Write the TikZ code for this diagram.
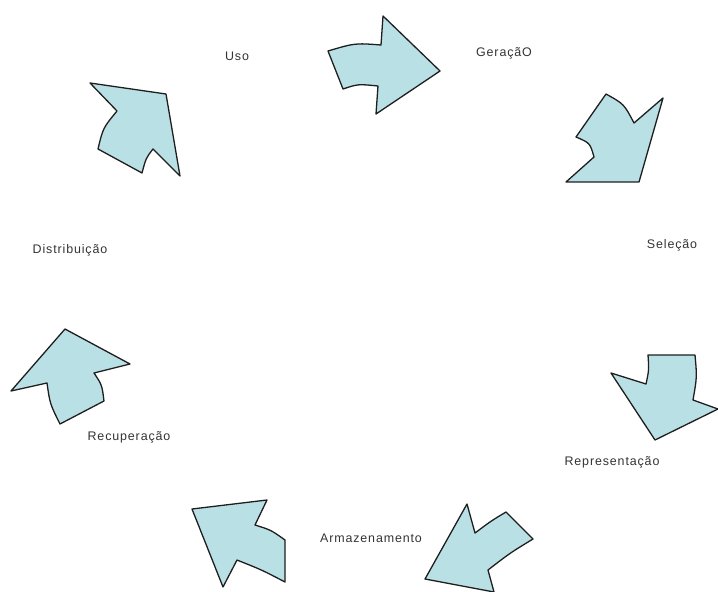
\documentclass[tikz,border=0pt]{standalone}
\usepackage{fontspec}
\setmainfont{Liberation Sans}
\newfontfamily\labelfont[LetterSpace=7]{Liberation Sans}
\definecolor{arrowfill}{HTML}{B9E0E4}
\definecolor{arrowline}{HTML}{1E1E1E}
\definecolor{labeltext}{HTML}{333333}
\tikzset{
  bigarrow/.style={fill=arrowfill, draw=arrowline, line width=1.3pt, line join=round},
  lbl/.style={text=labeltext, font=\labelfont\fontsize{12.5}{14}\selectfont, inner sep=0pt}
}
\begin{document}
\begin{tikzpicture}[x=1bp, y=-1bp]
\useasboundingbox (0,0) rectangle (718,592);
% labels
\node[lbl] (uso) at (237,56) {Uso};
\node[lbl] (geracao) at (504,53) {GeraçãO};
\node[lbl] (selecao) at (672,245) {Seleção};
\node[lbl] (repr) at (612,462) {Representação};
\node[lbl] (armaz) at (371,538) {Armazenamento};
\node[lbl] (recup) at (129,437) {Recuperação};
\node[lbl] (distr) at (70,250) {Distribuição};
% arrow 1: Uso -> Geracao
\draw[bigarrow] (328,51) .. controls (355,43) .. (381,45) -- (383,16) -- (440,71) -- (376,114) -- (378,86) .. controls (358,84) .. (343,89) -- cycle;
% arrow 2: Geracao -> Selecao
\draw[bigarrow] (606,94) .. controls (624,104) .. (634,123) -- (663,98) -- (639,182) -- (566,182) -- (594,157) .. controls (590,143) .. (576,137) -- cycle;
% arrow 3: Selecao -> Representacao
\draw[bigarrow] (648,355) -- (695,355) .. controls (697,377) .. (693,400) -- (718,409) -- (655,440) -- (611,373) -- (646,384) .. controls (649,370) .. cycle;
% arrow 4: Representacao -> Armazenamento
\draw[bigarrow] (467,504) -- (475,533) .. controls (491,521) .. (506,512) -- (533,539) .. controls (510,553) .. (488,570) -- (494,592) -- (425,579) -- cycle;
% arrow 5: Armazenamento -> Recuperacao
\draw[bigarrow] (192,509) -- (267,500) -- (255,525) .. controls (271,530) .. (285,540) -- (285,582) .. controls (262,570) .. (237,560) -- (223,587) -- cycle;
% arrow 6: Recuperacao -> Distribuicao
\draw[bigarrow] (65,329) -- (130,364) -- (94,373) .. controls (102,385) .. (104,401) -- (60,424) .. controls (50,404) .. (47,383) -- (11,391) -- cycle;
% arrow 7: Distribuicao -> Uso
\draw[bigarrow] (90,83) -- (166,94) -- (180,176) -- (153,149) .. controls (146,158) .. (142,173) -- (98,149) .. controls (103,128) .. (117,111) -- cycle;
\end{tikzpicture}
\end{document}
